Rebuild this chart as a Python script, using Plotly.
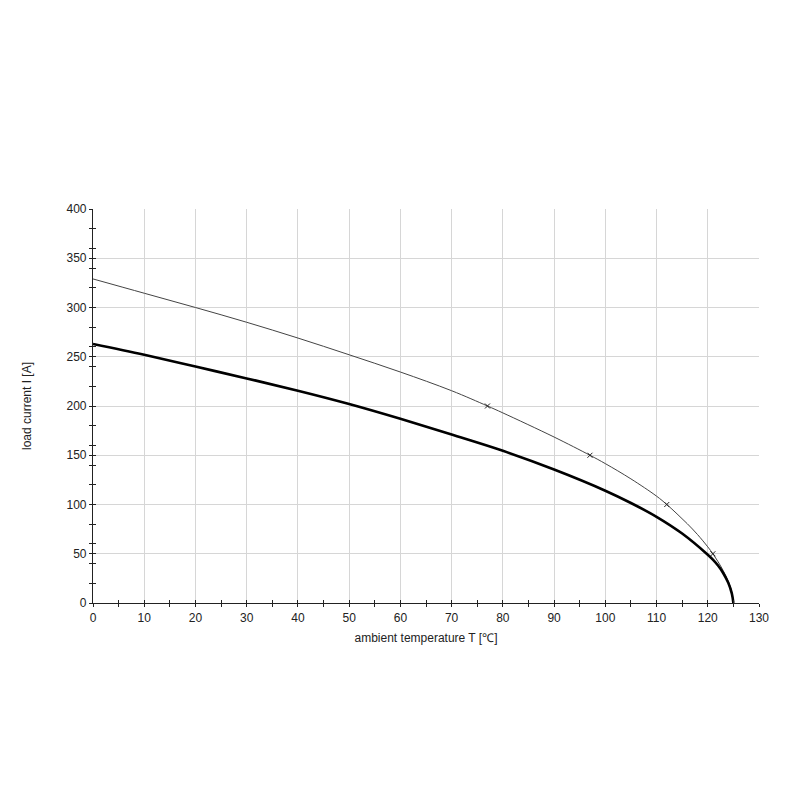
import plotly.graph_objects as go

# ambient temperature T [°C] and load current I [A]
temp_thin = [0, 10, 20, 30, 40, 50, 60, 70, 77, 80, 90, 97, 100, 105, 110, 112, 114, 116, 118, 120, 121, 122, 123, 124, 124.6, 125]
current_thin = [329, 314.5, 300, 285, 269, 252, 234.5, 215.5, 200, 193, 168.5, 150, 141.5, 126, 108.5, 100, 90.5, 80.5, 69.5, 57, 50, 42, 33, 22, 13, 0]

temp_thick = [0, 10, 20, 30, 40, 50, 60, 70, 80, 90, 100, 105, 110, 115, 120, 121, 122, 123, 124, 124.7, 125]
current_thick = [263, 252, 240, 228, 215.5, 202, 187, 171, 154.5, 135.5, 114, 101.5, 87.5, 70.5, 49, 44, 38, 30.5, 20.5, 9.5, 0]

# marked points on the thin curve
mark_temp = [77, 97, 112, 121]
mark_current = [200, 150, 100, 50]

x_range = [0, 130]
y_range = [0, 400]

fnt = dict(family="Liberation Sans, Arial, sans-serif", size=12, color="#222")

fig = go.Figure()

fig.add_trace(go.Scatter(x=temp_thin, y=current_thin, mode='lines',
                         line=dict(color='#444', width=1, shape='spline', smoothing=1.0), showlegend=False))
fig.add_trace(go.Scatter(x=temp_thick, y=current_thick, mode='lines',
                         line=dict(color='black', width=2.6, shape='spline', smoothing=1.0), showlegend=False))
fig.add_trace(go.Scatter(x=mark_temp, y=mark_current, mode='markers',
                         marker=dict(symbol='x-thin', size=5, line=dict(color='#222', width=1)),
                         showlegend=False))

# hoved-akser: ticks utanfor
fig.update_xaxes(range=x_range, dtick=10, tick0=0, showgrid=True, gridcolor='#d6d6d6', gridwidth=1,
                 showline=True, linecolor='#222', linewidth=1.2, ticks='outside', ticklen=3,
                 tickcolor='#222', zeroline=False, tickfont=fnt,
                 minor=dict(dtick=5, tick0=0, ticks='outside', ticklen=3, tickcolor='#222', showgrid=False),
                 title=dict(text='ambient temperature T [℃]', font=fnt, standoff=10))
fig.update_yaxes(range=y_range, dtick=50, tick0=0, showgrid=True, gridcolor='#d6d6d6', gridwidth=1,
                 showline=True, linecolor='#222', linewidth=1.2, ticks='outside', ticklen=3,
                 tickcolor='#222', zeroline=False, tickfont=fnt,
                 minor=dict(dtick=20, tick0=0, ticks='outside', ticklen=3, tickcolor='#222', showgrid=False),
                 title=dict(text='load current I [A]', font=fnt, standoff=32))

# ekstra akser for ticks innanfor, så dei kryssar aksen
fig.update_layout(
    xaxis2=dict(overlaying='x', matches='x', range=x_range, dtick=10, tick0=0, ticks='inside', ticklen=3,
                tickcolor='#222', showticklabels=False, showgrid=False, zeroline=False, side='bottom',
                minor=dict(dtick=5, tick0=0, ticks='inside', ticklen=3, tickcolor='#222')),
    yaxis2=dict(overlaying='y', matches='y', range=y_range, dtick=50, tick0=0, ticks='inside', ticklen=3,
                tickcolor='#222', showticklabels=False, showgrid=False, zeroline=False, side='left',
                minor=dict(dtick=20, tick0=0, ticks='inside', ticklen=3, tickcolor='#222')),
)
fig.add_trace(go.Scatter(x=[None], y=[None], xaxis='x2', yaxis='y2', showlegend=False, hoverinfo='skip'))

# sida har 8px body-marg, så margane er justert for det
fig.update_layout(width=800, height=800, plot_bgcolor='white', paper_bgcolor='white',
                  margin=dict(l=85, r=49, t=201, b=205), showlegend=False, font=fnt)

fig.write_html("out.html")
